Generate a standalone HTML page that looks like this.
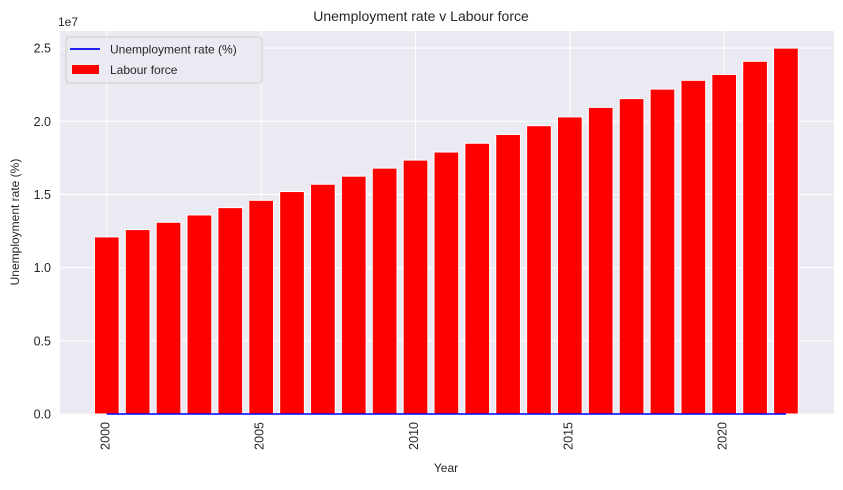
<!DOCTYPE html>
<html><head><meta charset="utf-8"><style>
html,body{margin:0;padding:0;background:#fff;}
svg text{font-family:"Liberation Sans",Arial,sans-serif;fill:#262626;}
</style></head><body>
<svg id="chart" width="843" height="485" xmlns="http://www.w3.org/2000/svg">
<rect x="60" y="31" width="774" height="383" fill="#eaeaf2"/>
<g id="grid"></g><g id="bars"></g><g id="line"></g><g id="axes"></g>
<text x="421" y="21" font-size="14" text-anchor="middle">Unemployment rate v Labour force</text>
<text x="446" y="472" font-size="12" text-anchor="middle">Year</text>
<text transform="translate(19,222) rotate(-90)" font-size="12" text-anchor="middle">Unemployment rate (%)</text>
<text x="58" y="26" font-size="12">1e7</text>
<g>
<rect x="66" y="37" width="196" height="46" rx="3" fill="#eaeaf2" fill-opacity="0.8" stroke="#ccc"/>
<line x1="70" y1="49" x2="100" y2="49" stroke="#0000ff" stroke-width="1.8"/>
<text x="110" y="53.5" font-size="12">Unemployment rate (%)</text>
<rect x="72" y="65" width="27" height="9" fill="#ff0000"/>
<text x="110" y="74" font-size="12">Labour force</text>
</g>
</svg>
<script>
const years=[2000,2001,2002,2003,2004,2005,2006,2007,2008,2009,2010,2011,2012,2013,2014,2015,2016,2017,2018,2019,2020,2021,2022];
const labourForce=[12.1e6,12.6e6,13.1e6,13.6e6,14.1e6,14.6e6,15.2e6,15.7e6,16.25e6,16.8e6,17.35e6,17.9e6,18.5e6,19.1e6,19.7e6,20.3e6,20.95e6,21.55e6,22.2e6,22.8e6,23.2e6,24.1e6,25.0e6];
const unemployment=[6.8,6.5,6.2,5.9,5.6,5.3,5.0,4.7,4.3,5.6,5.2,5.1,5.2,5.7,6.1,6.1,5.7,5.6,5.3,5.2,5.6,5.1,3.7];
const xTicks=[2000,2005,2010,2015,2020];
const yTicks=[0,5e6,10e6,15e6,20e6,25e6];
const yTickLabels=["0.0","0.5","1.0","1.5","2.0","2.5"];
const NS="http://www.w3.org/2000/svg";
const X0=60,X1=834,Y0=414,Y1=31,xmin=1998.484,xmax=2023.557,ymax=26.17e6;
const xs=v=>X0+(v-xmin)/(xmax-xmin)*(X1-X0);
const ys=v=>Y0-v/ymax*(Y0-Y1);
function mk(t,a,p){const e=document.createElementNS(NS,t);for(const k in a)e.setAttribute(k,a[k]);p.appendChild(e);return e;}
const grid=document.getElementById('grid'),axes=document.getElementById('axes');
xTicks.forEach(t=>{
 const l=mk('line',{x1:xs(t),x2:xs(t),y1:Y1,y2:Y0,stroke:'#fff','stroke-width':1},grid);
 
 
 const tx=mk('text',{transform:`translate(${xs(t)+2.5},${Y0+8}) rotate(-90)`,'font-size':12.5,'text-anchor':'end'},axes);
 tx.textContent=t;
 
 
});
yTicks.forEach((t,i)=>{
 const l=mk('line',{x1:X0,x2:X1,y1:ys(t),y2:ys(t),stroke:'#fff','stroke-width':1},grid);
 
 
 const tx=mk('text',{x:X0-9,y:ys(t)+4.5,'font-size':12.5,'text-anchor':'end'},axes);
 tx.textContent=yTickLabels[i];
 
 
});
const bars=document.getElementById('bars');
const bw=xs(0.8)-xs(0);
years.forEach((y,i)=>{
 const r=mk('rect',{x:xs(y)-bw/2,y:ys(labourForce[i]),width:bw,height:Y0-ys(labourForce[i]),fill:'#ff0000',stroke:'#fff','stroke-width':1},bars);
 
 
});
const pts=years.map((y,i)=>xs(y)+','+ys(unemployment[i])).join(' ');
const pl=mk('polyline',{points:pts,fill:'none',stroke:'#0000ff','stroke-width':1.6},document.getElementById('line'));


</script>
</body></html>
